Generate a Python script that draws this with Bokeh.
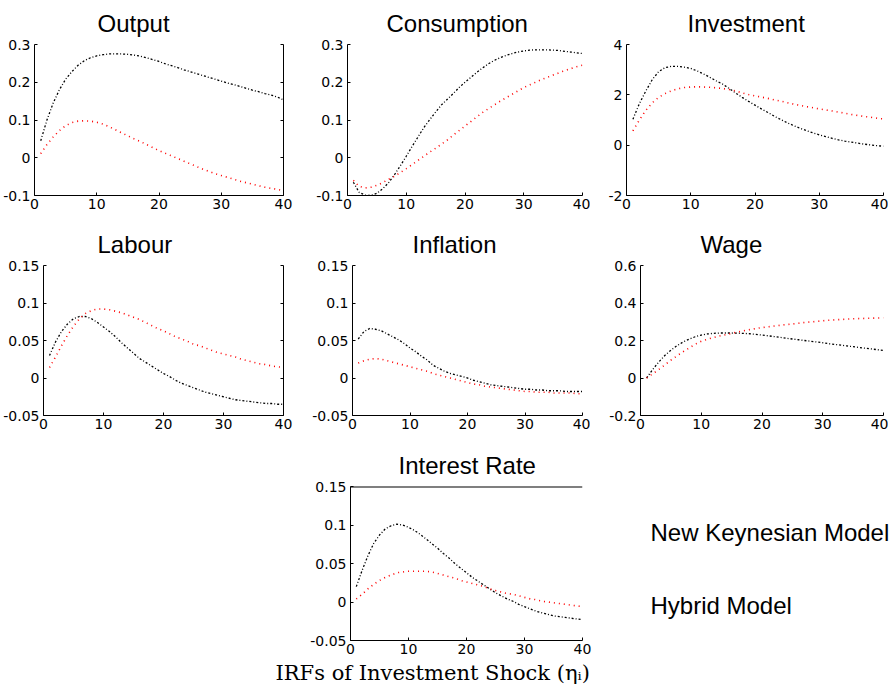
from bokeh.plotting import figure
from bokeh.layouts import column, row
from bokeh.models import Range1d, FixedTicker, LinearAxis, Spacer, Title, Span
from bokeh.embed import file_html
from bokeh.resources import INLINE
from bokeh.core.properties import value

# ---------------- data ----------------
periods = list(range(1, 41))
x_ticks = [0, 10, 20, 30, 40]
legend_labels = ["New Keynesian Model", "Hybrid Model"]
caption = "IRFs of Investment Shock (\u03b7\u1d62)"

output_nk = [0.045, 0.100, 0.145, 0.180, 0.208, 0.228, 0.245, 0.257, 0.265, 0.270,
             0.273, 0.275, 0.275, 0.275, 0.274, 0.272, 0.269, 0.265, 0.260, 0.255,
             0.249, 0.244, 0.239, 0.233, 0.228, 0.223, 0.218, 0.213, 0.208, 0.203,
             0.198, 0.194, 0.189, 0.184, 0.179, 0.175, 0.170, 0.166, 0.161, 0.153]
output_hy = [0.011, 0.035, 0.055, 0.072, 0.085, 0.093, 0.097, 0.098, 0.097, 0.094,
             0.089, 0.082, 0.074, 0.066, 0.058, 0.050, 0.043, 0.035, 0.027, 0.019,
             0.012, 0.005, -0.002, -0.009, -0.016, -0.023, -0.030, -0.036, -0.042, -0.047,
             -0.052, -0.057, -0.062, -0.066, -0.070, -0.074, -0.078, -0.081, -0.084, -0.087]

cons_nk = [-0.065, -0.092, -0.099, -0.100, -0.094, -0.082, -0.066, -0.045, -0.021, 0.004,
           0.030, 0.055, 0.080, 0.101, 0.121, 0.140, 0.155, 0.170, 0.186, 0.200,
           0.213, 0.226, 0.238, 0.249, 0.258, 0.265, 0.271, 0.276, 0.280, 0.283,
           0.285, 0.286, 0.286, 0.286, 0.285, 0.284, 0.282, 0.280, 0.278, 0.276]
cons_hy = [-0.060, -0.076, -0.080, -0.078, -0.073, -0.066, -0.057, -0.049, -0.039, -0.029,
           -0.018, -0.007, 0.004, 0.015, 0.025, 0.036, 0.047, 0.060, 0.072, 0.084,
           0.096, 0.108, 0.120, 0.130, 0.140, 0.150, 0.159, 0.168, 0.177, 0.186,
           0.193, 0.200, 0.207, 0.213, 0.219, 0.225, 0.231, 0.236, 0.241, 0.245]

inv_nk = [1.03, 1.65, 2.15, 2.60, 2.92, 3.08, 3.13, 3.13, 3.10, 3.05,
          2.95, 2.83, 2.69, 2.55, 2.42, 2.25, 2.07, 1.90, 1.74, 1.59,
          1.44, 1.30, 1.15, 1.02, 0.89, 0.78, 0.67, 0.58, 0.49, 0.41,
          0.34, 0.27, 0.21, 0.16, 0.12, 0.08, 0.04, 0.01, -0.02, -0.04]
inv_hy = [0.57, 1.00, 1.38, 1.68, 1.90, 2.05, 2.16, 2.24, 2.29, 2.31,
          2.32, 2.31, 2.30, 2.28, 2.25, 2.21, 2.15, 2.08, 2.01, 1.96,
          1.91, 1.86, 1.80, 1.75, 1.69, 1.63, 1.58, 1.53, 1.49, 1.44,
          1.40, 1.36, 1.31, 1.27, 1.22, 1.18, 1.14, 1.11, 1.07, 1.04]

labour_nk = [0.030, 0.048, 0.062, 0.072, 0.079, 0.082, 0.082, 0.079, 0.074, 0.068,
             0.062, 0.055, 0.047, 0.040, 0.033, 0.026, 0.021, 0.016, 0.011, 0.006,
             0.002, -0.003, -0.007, -0.010, -0.013, -0.016, -0.019, -0.021, -0.023, -0.025,
             -0.027, -0.029, -0.030, -0.031, -0.032, -0.033, -0.034, -0.034, -0.035, -0.035]
labour_hy = [0.014, 0.028, 0.043, 0.057, 0.069, 0.079, 0.086, 0.090, 0.092, 0.092,
             0.091, 0.089, 0.087, 0.084, 0.081, 0.078, 0.074, 0.070, 0.066, 0.063,
             0.059, 0.055, 0.052, 0.049, 0.045, 0.043, 0.040, 0.037, 0.034, 0.032,
             0.030, 0.028, 0.025, 0.023, 0.021, 0.019, 0.018, 0.016, 0.015, 0.014]

infl_nk = [0.052, 0.062, 0.066, 0.065, 0.063, 0.059, 0.055, 0.051, 0.046, 0.040,
           0.035, 0.029, 0.024, 0.017, 0.013, 0.009, 0.006, 0.004, 0.002, 0.000,
           -0.003, -0.005, -0.007, -0.009, -0.010, -0.011, -0.012, -0.013, -0.014, -0.015,
           -0.015, -0.016, -0.016, -0.017, -0.017, -0.017, -0.018, -0.018, -0.018, -0.018]
infl_hy = [0.020, 0.023, 0.025, 0.026, 0.025, 0.023, 0.021, 0.019, 0.017, 0.015,
           0.013, 0.011, 0.009, 0.006, 0.004, 0.002, 0.000, -0.002, -0.004, -0.006,
           -0.008, -0.009, -0.011, -0.012, -0.013, -0.014, -0.015, -0.016, -0.017, -0.018,
           -0.018, -0.019, -0.019, -0.019, -0.020, -0.020, -0.020, -0.020, -0.021, -0.021]

wage_nk = [0.000, 0.045, 0.085, 0.120, 0.148, 0.172, 0.192, 0.207, 0.220, 0.229,
           0.235, 0.238, 0.240, 0.240, 0.240, 0.239, 0.238, 0.236, 0.233, 0.229,
           0.225, 0.221, 0.217, 0.212, 0.208, 0.204, 0.200, 0.196, 0.192, 0.188,
           0.183, 0.179, 0.175, 0.171, 0.167, 0.163, 0.159, 0.155, 0.151, 0.147]
wage_hy = [0.000, 0.022, 0.045, 0.070, 0.095, 0.118, 0.140, 0.160, 0.180, 0.196,
           0.207, 0.216, 0.224, 0.231, 0.238, 0.245, 0.252, 0.258, 0.264, 0.269,
           0.273, 0.277, 0.281, 0.285, 0.288, 0.292, 0.296, 0.299, 0.302, 0.305,
           0.308, 0.310, 0.312, 0.314, 0.316, 0.317, 0.318, 0.319, 0.320, 0.321]

rate_nk = [0.020, 0.041, 0.060, 0.076, 0.087, 0.095, 0.099, 0.101, 0.100, 0.097,
           0.093, 0.088, 0.082, 0.076, 0.070, 0.063, 0.057, 0.050, 0.044, 0.038,
           0.032, 0.027, 0.022, 0.017, 0.012, 0.008, 0.004, 0.001, -0.003, -0.006,
           -0.009, -0.012, -0.014, -0.016, -0.018, -0.019, -0.020, -0.021, -0.022, -0.023]
rate_hy = [0.004, 0.010, 0.017, 0.023, 0.028, 0.032, 0.035, 0.038, 0.039, 0.040,
           0.040, 0.040, 0.040, 0.039, 0.037, 0.035, 0.033, 0.031, 0.028, 0.026,
           0.024, 0.022, 0.020, 0.017, 0.015, 0.013, 0.011, 0.010, 0.008, 0.006,
           0.004, 0.003, 0.001, 0.000, -0.001, -0.002, -0.003, -0.004, -0.005, -0.006]

ticks_a = [-0.1, 0.0, 0.1, 0.2, 0.3]
labels_a = ["-0.1", "0", "0.1", "0.2", "0.3"]
ticks_inv = [-2, 0, 2, 4]
labels_inv = ["-2", "0", "2", "4"]
ticks_b = [-0.05, 0.0, 0.05, 0.1, 0.15]
labels_b = ["-0.05", "0", "0.05", "0.1", "0.15"]
ticks_w = [-0.2, 0.0, 0.2, 0.4, 0.6]
labels_w = ["-0.2", "0", "0.2", "0.4", "0.6"]

TICK_FONT = "DejaVu Sans"
TITLE_FONT = "Liberation Sans"


def style_axis(ax, ticks, labels=None, hide=False, standoff=4):
    ax.ticker = FixedTicker(ticks=ticks)
    ax.major_tick_in = 3
    ax.major_tick_out = 0
    ax.minor_tick_line_color = None
    ax.axis_line_color = "black"
    ax.axis_line_width = 1
    ax.major_tick_line_color = "black"
    ax.major_label_text_font = TICK_FONT
    ax.major_label_text_color = "black"
    if hide:
        ax.major_label_text_font_size = "0px"
        ax.major_label_standoff = 0
        ax.major_label_overrides = {t: "" for t in ticks}
    else:
        ax.major_label_text_font_size = "14px"
        ax.major_label_standoff = standoff
        if labels is not None:
            ax.major_label_overrides = dict(zip(ticks, labels))


def panel(title, nk, hy, ylo, yhi, yticks, ylabels, w, h, bl, br, bt, bb, toff,
          right_line=False, top_line=False):
    p = figure(width=w, height=h, x_range=Range1d(0, 40), y_range=Range1d(ylo, yhi),
               output_backend="svg", toolbar_location=None,
               min_border_left=bl, min_border_right=br, min_border_top=bt, min_border_bottom=bb,
               outline_line_color=None, background_fill_color="white",
               border_fill_color="white")
    p.xgrid.visible = False
    p.ygrid.visible = False
    p.title.text = title
    p.title.text_font = TITLE_FONT
    p.title.text_font_size = "24px"
    p.title.text_font_style = "normal"
    p.title.text_color = "black"
    p.title.align = "left"
    p.title.offset = toff
    p.title.standoff = 15
    style_axis(p.xaxis[0], x_ticks, [str(t) for t in x_ticks], standoff=3)
    style_axis(p.yaxis[0], yticks, ylabels, standoff=4)
    if right_line:
        ax = LinearAxis()
        style_axis(ax, yticks, hide=True)
        p.add_layout(ax, "right")
    if top_line:
        p.add_layout(Span(location=yhi, dimension="width", line_color="black", line_width=2))
    p.line(periods, nk, line_color="black", line_width=1.3, line_dash="2 2 1 2")
    p.line(periods, hy, line_color="red", line_width=1.6, line_dash="1 4")
    return p


# row 1 (page y 0..221)
p_out = panel("Output", output_nk, output_hy, -0.1, 0.3, ticks_a, labels_a,
              298, 221, 27, 15, 43, 26, 63, right_line=True)
p_con = panel("Consumption", cons_nk, cons_hy, -0.1, 0.3, ticks_a, labels_a,
              292, 221, 49, 8, 43, 26, 39)
p_inv = panel("Investment", inv_nk, inv_hy, -2, 4, ticks_inv, labels_inv,
              298, 221, 36, 5, 43, 26, 61)

# row 2 (page y 221..442)
p_lab = panel("Labour", labour_nk, labour_hy, -0.05, 0.15, ticks_b, labels_b,
              298, 221, 27, 15, 44, 27, 54, right_line=True)
p_inf = panel("Inflation", infl_nk, infl_hy, -0.05, 0.15, ticks_b, labels_b,
              292, 221, 54, 8, 44, 27, 60)
p_wag = panel("Wage", wage_nk, wage_hy, -0.2, 0.6, ticks_w, labels_w,
              298, 221, 50, 5, 44, 27, 60)

# row 3 (page y 442..694)
p_ir = panel("Interest Rate", rate_nk, rate_hy, -0.05, 0.15, ticks_b, labels_b,
             329, 252, 75, 22, 44, 54, 48, top_line=True)
p_ir.add_layout(Title(text=caption, align="left", offset=-75, text_font="DejaVu Serif",
                      text_font_size="21px", text_font_style="normal", text_color="black",
                      standoff=4), "below")

# legend texts (the original shows only the labels); frame shares the row's borders
lg = figure(width=287, height=252, x_range=Range1d(0, 287), y_range=Range1d(0, 154),
            x_axis_type=None, y_axis_type=None, min_border_left=0, min_border_right=0,
            min_border_top=44, min_border_bottom=54, outline_line_color=None,
            toolbar_location=None, output_backend="svg")
lg.text(x=[46, 46], y=[108, 35], text=legend_labels, text_font=value("Liberation Sans"),
        text_font_size="24px", text_baseline="middle", text_align="left", text_color="black")

layout = column(
    row(p_out, p_con, p_inv),
    row(p_lab, p_inf, p_wag),
    row(Spacer(width=275, height=252), p_ir, lg),
)

open("out.html", "w").write(file_html(layout, INLINE))
